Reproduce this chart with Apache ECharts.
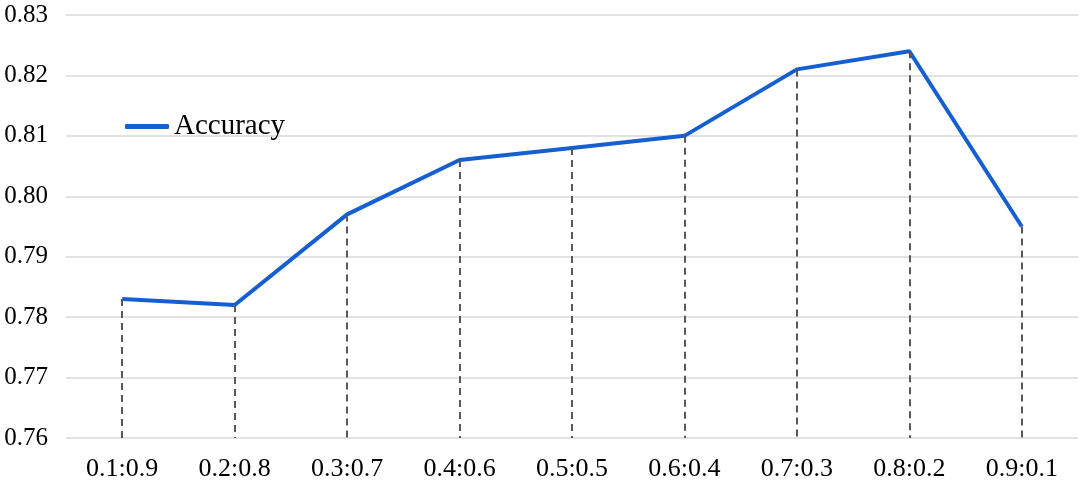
<!DOCTYPE html>
<html>
<head>
<meta charset="utf-8">
<script src="https://cdn.jsdelivr.net/npm/echarts@6/dist/echarts.min.js"></script>
<style>
  html, body { margin: 0; padding: 0; background: #fff; }
  #chart { width: 1084px; height: 483px; }
</style>
</head>
<body>
<div id="chart"></div>
<script>
  // ratio labels on the x axis
  var ratios = ['0.1:0.9', '0.2:0.8', '0.3:0.7', '0.4:0.6', '0.5:0.5', '0.6:0.4', '0.7:0.3', '0.8:0.2', '0.9:0.1'];
  // accuracy values
  var accuracy = [0.783, 0.782, 0.797, 0.806, 0.808, 0.810, 0.821, 0.824, 0.795];
  var yMin = 0.76, yMax = 0.83, yStep = 0.01;

  // dashed drop lines from each point down to the axis
  var dropLines = accuracy.map(function (v, i) {
    return [{ coord: [i, v] }, { coord: [i, yMin] }];
  });

  var font = '"Liberation Serif", "Times New Roman", serif';
  var myChart = echarts.init(document.getElementById('chart'));
  myChart.setOption({
    animation: false,
    textStyle: { fontFamily: font },
    grid: { left: 66, right: 6, top: 15, bottom: 45 },
    legend: {
      left: 120,
      top: 107,
      itemWidth: 44,
      itemHeight: 5,
      itemGap: 8,
      icon: 'roundRect',
      textStyle: { fontFamily: font, fontSize: 29, color: '#000' },
      data: ['Accuracy']
    },
    xAxis: {
      type: 'category',
      data: ratios,
      boundaryGap: true,
      axisLine: { show: false },
      axisTick: { show: false },
      axisLabel: { fontFamily: font, fontSize: 26, color: '#000', margin: 18 }
    },
    yAxis: {
      type: 'value',
      min: yMin,
      max: yMax,
      interval: yStep,
      axisLine: { show: false },
      axisTick: { show: false },
      splitLine: { lineStyle: { color: '#d9d9d9', width: 1.5 } },
      axisLabel: {
        fontFamily: font, fontSize: 25, color: '#000', margin: 18,
        formatter: function (v) { return v.toFixed(2); }
      }
    },
    series: [{
      name: 'Accuracy',
      type: 'line',
      data: accuracy,
      symbol: 'none',
      itemStyle: { color: '#165fd0' },
      lineStyle: { color: '#165fd0', width: 4 },
      markLine: {
        silent: true,
        symbol: ['none', 'none'],
        label: { show: false },
        lineStyle: { type: [7, 5], color: '#595959', width: 2 },
        data: dropLines
      },
      z: 3
    }]
  });
</script>
</body>
</html>
